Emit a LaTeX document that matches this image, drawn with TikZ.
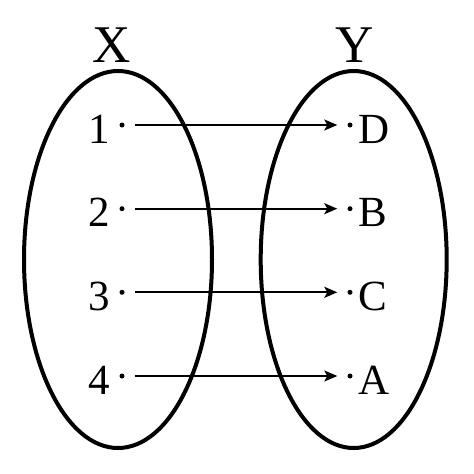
\documentclass[tikz,border=0pt]{standalone}
\usepackage{fontspec}
\setmainfont{Liberation Serif}
\usepackage{tikz}
\usetikzlibrary{arrows.meta}
\tikzset{
  set/.style={draw=black, line width=4pt},
  map/.style={draw=black, line width=2pt, -{Stealth[length=13pt,width=11pt,inset=3pt]},
    shorten <=10pt, shorten >=10pt},
  dot/.style={circle, fill=black, inner sep=0pt, minimum size=5pt},
  elt/.style={font=\fontsize{43}{43}\selectfont, inner sep=0pt},
  setname/.style={font=\fontsize{53}{53}\selectfont, inner sep=0pt, anchor=base},
}
\begin{document}
\begin{tikzpicture}[x=1pt,y=-1pt]
  \useasboundingbox (0,0) rectangle (474,474);

  % the two sets
  \draw[set] (118,259.5) ellipse (94 and 188.5);
  \draw[set] (353.7,259.5) ellipse (93 and 188.5);
  \node[setname] (X) at (112,62) {X};
  \node[setname] (Y) at (355,62) {Y};

  % domain
  \node[dot] (x1) at (122,125) {};
  \node[dot] (x2) at (122,208.7) {};
  \node[dot] (x3) at (122,292.3) {};
  \node[dot] (x4) at (122,376) {};
  \node[elt,anchor=base east] (n1) at (110,143) {1};
  \node[elt,anchor=base east] (n2) at (110,226.7) {2};
  \node[elt,anchor=base east] (n3) at (110,310.3) {3};
  \node[elt,anchor=base east] (n4) at (110,394) {4};

  % codomain
  \node[dot] (y1) at (350,125) {};
  \node[dot] (y2) at (350,208.7) {};
  \node[dot] (y3) at (350,292.3) {};
  \node[dot] (y4) at (350,376) {};
  \node[elt,anchor=base west] (cD) at (358,143) {D};
  \node[elt,anchor=base west] (cB) at (358,226.7) {B};
  \node[elt,anchor=base west] (cC) at (358,310.3) {C};
  \node[elt,anchor=base west] (cA) at (358,394) {A};

  \draw[map] (x1) -- (y1);
  \draw[map] (x2) -- (y2);
  \draw[map] (x3) -- (y3);
  \draw[map] (x4) -- (y4);
\end{tikzpicture}
\end{document}
